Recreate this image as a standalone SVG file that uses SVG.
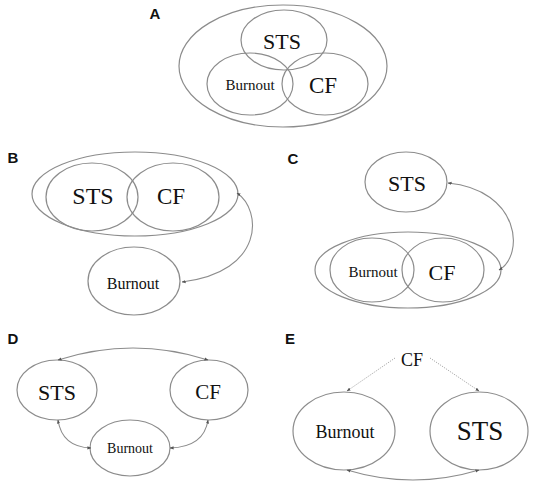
<svg xmlns="http://www.w3.org/2000/svg" width="536" height="488" viewBox="0 0 536 488">
<style>
.bg{fill:#fff}
.el{fill:none;stroke:#8c8c8c;stroke-width:1.2}
.lab{font-family:"Liberation Sans",Arial,sans-serif;font-weight:bold;font-size:15px;fill:#111;text-anchor:middle;dominant-baseline:central}
.t{font-family:"Liberation Serif","Times New Roman",serif;fill:#111;text-anchor:middle;dominant-baseline:central}
.con{fill:none;stroke:#8c8c8c;stroke-width:1.1;marker-start:url(#ah);marker-end:url(#ah)}
.dot{fill:none;stroke:#aaa;stroke-width:1;stroke-dasharray:1.2 1.2;marker-end:url(#ah)}
</style>
<defs>
<marker id="ah" viewBox="0 0 10 10" refX="9" refY="5" markerWidth="4" markerHeight="4" markerUnits="userSpaceOnUse" orient="auto-start-reverse">
<path d="M0,1 L10,5 L0,9 z" fill="#555"/>
</marker>
</defs>
<rect class="bg" x="0" y="0" width="536" height="488"/>

<g id="panelA">
<text class="lab" x="155" y="13">A</text>
<ellipse id="A-outer" class="el" cx="283" cy="66" rx="104" ry="61"/>
<g id="A-STS"><ellipse class="el" cx="284" cy="40" rx="43" ry="30"/><text class="t" x="282" y="41" font-size="22">STS</text></g>
<g id="A-Burnout"><ellipse class="el" cx="250" cy="84" rx="43" ry="31"/><text class="t" x="250" y="85" font-size="15">Burnout</text></g>
<g id="A-CF"><ellipse class="el" cx="325" cy="84" rx="43" ry="31"/><text class="t" x="323" y="85" font-size="23">CF</text></g>
</g>

<g id="panelB">
<text class="lab" x="13" y="157">B</text>
<ellipse id="B-outer" class="el" cx="135" cy="194" rx="103" ry="42"/>
<g id="B-STS"><ellipse class="el" cx="92" cy="197" rx="46" ry="34"/><text class="t" x="93" y="196" font-size="24">STS</text></g>
<g id="B-CF"><ellipse class="el" cx="173" cy="197" rx="46" ry="34"/><text class="t" x="171" y="196" font-size="23">CF</text></g>
<g id="B-Burnout"><ellipse class="el" cx="134" cy="281" rx="46" ry="34"/><text class="t" x="133" y="283" font-size="16">Burnout</text></g>
</g>

<g id="panelC">
<text class="lab" x="293" y="158">C</text>
<g id="C-STS"><ellipse class="el" cx="406" cy="182" rx="41" ry="30"/><text class="t" x="407" y="183" font-size="22">STS</text></g>
<ellipse id="C-outer" class="el" cx="408" cy="270" rx="93" ry="38"/>
<g id="C-Burnout"><ellipse class="el" cx="372" cy="270" rx="42" ry="32"/><text class="t" x="373" y="272" font-size="15">Burnout</text></g>
<g id="C-CF"><ellipse class="el" cx="443" cy="270" rx="41" ry="32"/><text class="t" x="442" y="272" font-size="22">CF</text></g>
</g>

<g id="panelD">
<text class="lab" x="13" y="338">D</text>
<g id="D-STS"><ellipse class="el" cx="57" cy="390" rx="40" ry="30"/><text class="t" x="57" y="392" font-size="22">STS</text></g>
<g id="D-CF"><ellipse class="el" cx="209" cy="390" rx="39" ry="30"/><text class="t" x="208" y="392" font-size="21">CF</text></g>
<g id="D-Burnout"><ellipse class="el" cx="130" cy="448" rx="40" ry="28"/><text class="t" x="130" y="448" font-size="14">Burnout</text></g>
</g>

<g id="panelE">
<text class="lab" x="290" y="338">E</text>
<g id="E-CF"><text class="t" x="412" y="360" font-size="18">CF</text></g>
<g id="E-Burnout"><ellipse class="el" cx="344" cy="431" rx="51" ry="39"/><text class="t" x="345" y="432" font-size="18">Burnout</text></g>
<g id="E-STS"><ellipse class="el" cx="479" cy="431" rx="49" ry="39"/><text class="t" x="480" y="431" font-size="27">STS</text></g>
</g>

<g id="connectors">
<path class="con" d="M237,193 C262,210 265,272 182,282"/>
<path class="con" d="M448,183 C520,190 525,255 499,270"/>
<path class="con" d="M58,360 Q133,336 208,360"/>
<path class="con" d="M58,420 Q62,447 91,448"/>
<path class="con" d="M208,420 Q204,447 170,448"/>
<path class="dot" d="M395,358 L347,391"/>
<path class="dot" d="M430,358 L479,391"/>
<path class="con" d="M347,470 Q413,490 479,470"/>
</g>
</svg>
